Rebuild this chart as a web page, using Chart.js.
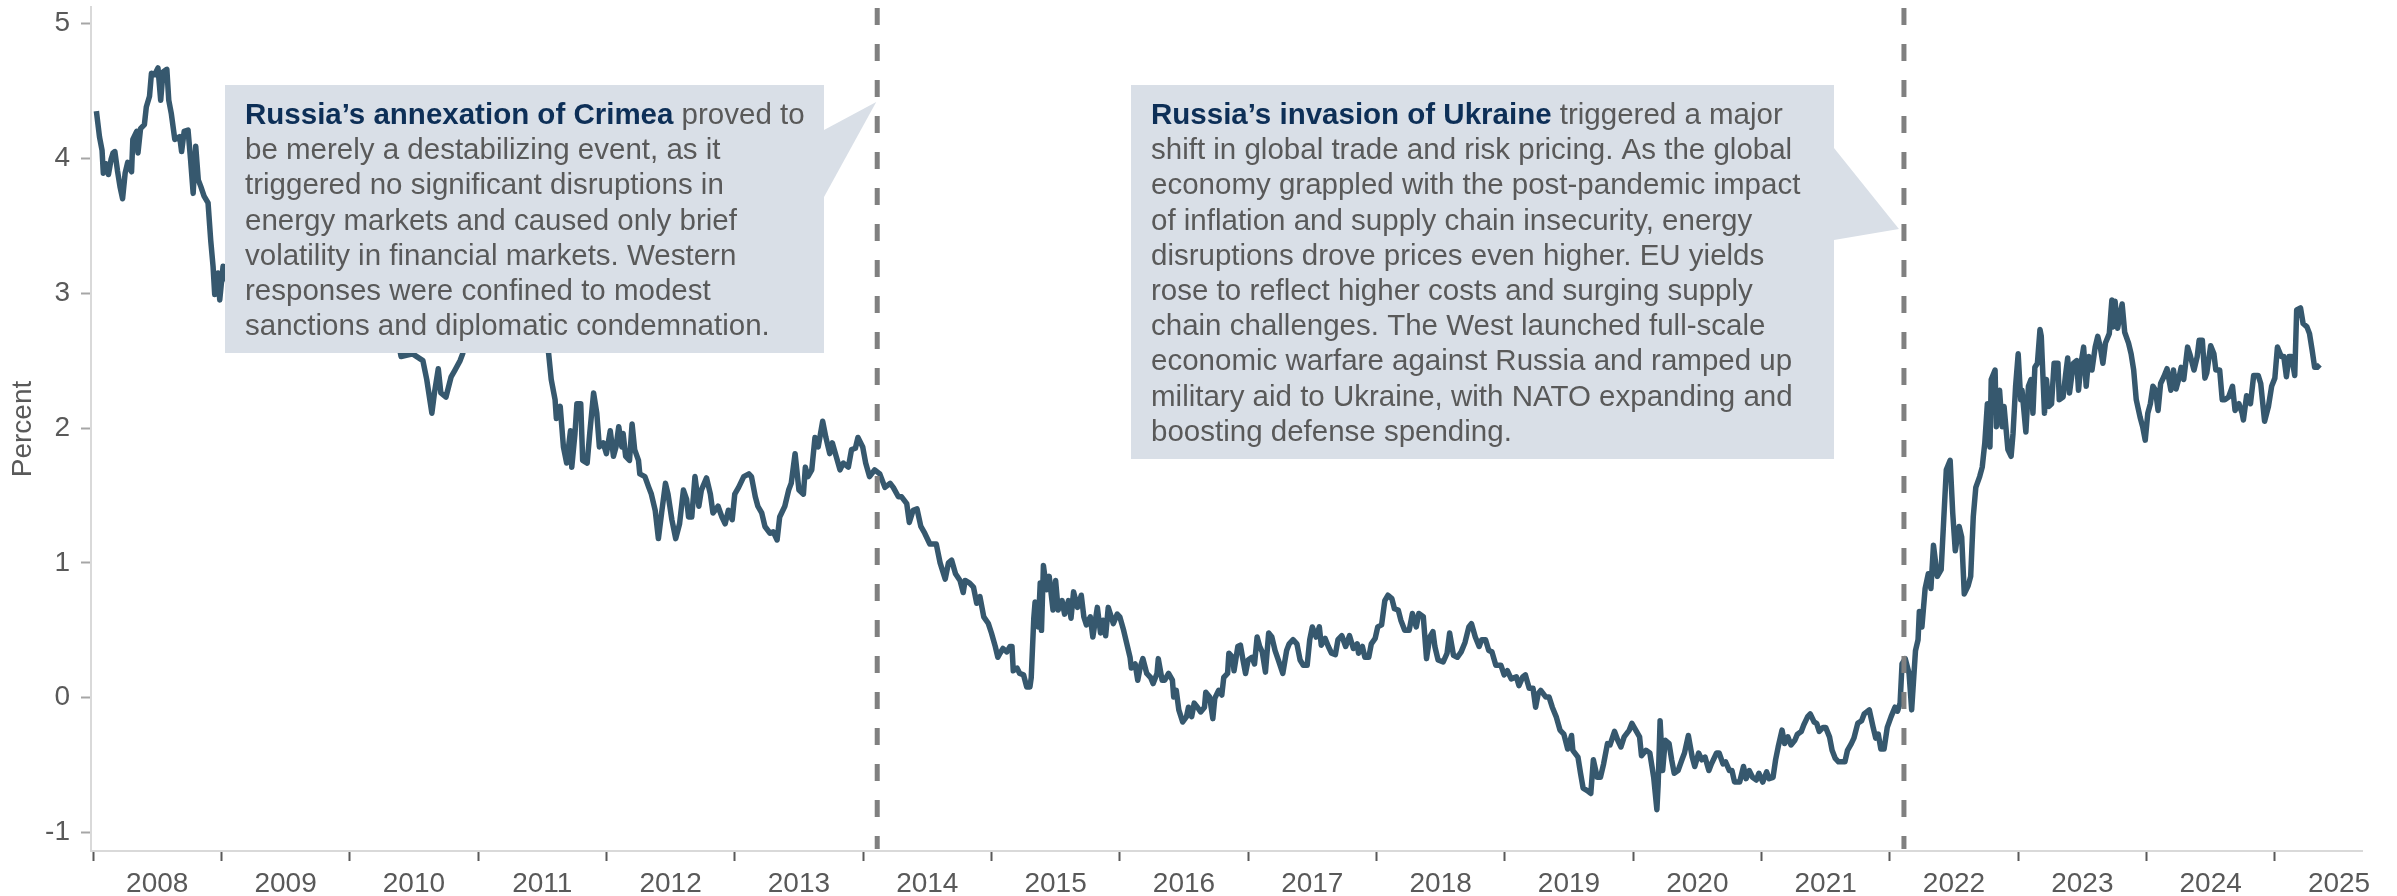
<!DOCTYPE html>
<html>
<head>
<meta charset="utf-8">
<title>Yields and the two Russia shocks</title>
<script src="https://cdn.jsdelivr.net/npm/chart.js@4.4.1/dist/chart.umd.min.js"></script>
<style>
  html, body { margin: 0; padding: 0; background: #fff; }
  canvas { display: block; }
</style>
</head>
<body>
<canvas id="mycanvas" width="2397" height="896"></canvas>
<script>
// dates are decimal years, yields in percent (~2 per month)
const dates = [
  2008.026, 2008.05, 2008.07, 2008.08, 2008.10, 2008.12, 2008.14, 2008.156, 2008.17, 2008.19,
  2008.21, 2008.23, 2008.25, 2008.27, 2008.30, 2008.31, 2008.34, 2008.35, 2008.37, 2008.40,
  2008.415, 2008.44, 2008.455, 2008.48, 2008.506, 2008.527, 2008.545, 2008.575, 2008.59, 2008.61,
  2008.637, 2008.675, 2008.69, 2008.71, 2008.74, 2008.76, 2008.78, 2008.80, 2008.82, 2008.84,
  2008.865, 2008.896, 2008.917, 2008.935, 2008.948, 2008.974, 2008.987, 2009.013, 2009.026, 2009.06,
  2009.10, 2009.15, 2009.20, 2009.25, 2009.30, 2009.35, 2009.42, 2009.47, 2009.52, 2009.58,
  2009.65, 2009.72, 2009.78, 2009.85, 2009.92, 2009.98, 2010.05, 2010.12, 2010.20, 2010.27,
  2010.33, 2010.37, 2010.40, 2010.49, 2010.57, 2010.60, 2010.64, 2010.66, 2010.69, 2010.71,
  2010.75, 2010.79, 2010.82, 2010.86, 2010.88, 2010.92, 2010.96, 2011.00, 2011.05, 2011.10,
  2011.15, 2011.20, 2011.27, 2011.31, 2011.35, 2011.40, 2011.45, 2011.50, 2011.55, 2011.57,
  2011.60, 2011.61, 2011.64, 2011.665, 2011.69, 2011.72, 2011.73, 2011.755, 2011.77, 2011.80,
  2011.815, 2011.85, 2011.87, 2011.90, 2011.925, 2011.945, 2011.975, 2012.00, 2012.03, 2012.055,
  2012.075, 2012.096, 2012.12, 2012.13, 2012.15, 2012.18, 2012.20, 2012.22, 2012.25, 2012.26,
  2012.30, 2012.33, 2012.35, 2012.38, 2012.405, 2012.43, 2012.46, 2012.48, 2012.51, 2012.54,
  2012.57, 2012.60, 2012.625, 2012.64, 2012.665, 2012.69, 2012.72, 2012.74, 2012.78, 2012.81,
  2012.83, 2012.87, 2012.90, 2012.925, 2012.95, 2012.98, 2013.00, 2013.03, 2013.07, 2013.11,
  2013.13, 2013.16, 2013.18, 2013.21, 2013.235, 2013.275, 2013.30, 2013.33, 2013.35, 2013.39,
  2013.42, 2013.44, 2013.47, 2013.50, 2013.535, 2013.55, 2013.57, 2013.60, 2013.625, 2013.65,
  2013.685, 2013.71, 2013.74, 2013.76, 2013.79, 2013.82, 2013.846, 2013.885, 2013.91, 2013.94,
  2013.96, 2013.997, 2014.02, 2014.05, 2014.09, 2014.13, 2014.17, 2014.21, 2014.235, 2014.275,
  2014.30, 2014.34, 2014.36, 2014.39, 2014.42, 2014.45, 2014.48, 2014.52, 2014.57, 2014.60,
  2014.64, 2014.665, 2014.69, 2014.72, 2014.755, 2014.78, 2014.795, 2014.83, 2014.86, 2014.885,
  2014.91, 2014.94, 2014.976, 2015.00, 2015.03, 2015.05, 2015.067, 2015.09, 2015.12, 2015.145,
  2015.16, 2015.17, 2015.20, 2015.22, 2015.25, 2015.275, 2015.30, 2015.31, 2015.33, 2015.34,
  2015.35, 2015.365, 2015.38, 2015.39, 2015.405, 2015.43, 2015.45, 2015.48, 2015.50, 2015.52,
  2015.55, 2015.57, 2015.60, 2015.62, 2015.64, 2015.67, 2015.70, 2015.72, 2015.74, 2015.77,
  2015.79, 2015.825, 2015.85, 2015.87, 2015.89, 2015.91, 2015.95, 2015.98, 2016.00, 2016.03,
  2016.055, 2016.08, 2016.09, 2016.12, 2016.14, 2016.16, 2016.18, 2016.21, 2016.24, 2016.26,
  2016.29, 2016.30, 2016.33, 2016.35, 2016.38, 2016.41, 2016.42, 2016.44, 2016.46, 2016.49,
  2016.52, 2016.535, 2016.56, 2016.58, 2016.605, 2016.63, 2016.66, 2016.67, 2016.70, 2016.725,
  2016.74, 2016.77, 2016.795, 2016.81, 2016.84, 2016.85, 2016.88, 2016.89, 2016.92, 2016.94,
  2016.96, 2016.98, 2017.00, 2017.03, 2017.05, 2017.07, 2017.09, 2017.11, 2017.135, 2017.16,
  2017.185, 2017.21, 2017.235, 2017.27, 2017.30, 2017.32, 2017.35, 2017.38, 2017.405, 2017.43,
  2017.46, 2017.48, 2017.50, 2017.53, 2017.555, 2017.57, 2017.60, 2017.625, 2017.65, 2017.68,
  2017.70, 2017.73, 2017.76, 2017.79, 2017.82, 2017.85, 2017.86, 2017.89, 2017.91, 2017.94,
  2017.96, 2017.99, 2018.01, 2018.04, 2018.065, 2018.09, 2018.12, 2018.14, 2018.17, 2018.19,
  2018.22, 2018.255, 2018.28, 2018.31, 2018.33, 2018.365, 2018.39, 2018.415, 2018.44, 2018.455,
  2018.48, 2018.52, 2018.55, 2018.57, 2018.60, 2018.63, 2018.66, 2018.69, 2018.72, 2018.74,
  2018.77, 2018.80, 2018.82, 2018.85, 2018.875, 2018.90, 2018.93, 2018.97, 2018.995, 2019.02,
  2019.05, 2019.09, 2019.11, 2019.14, 2019.16, 2019.19, 2019.22, 2019.24, 2019.26, 2019.28,
  2019.32, 2019.345, 2019.37, 2019.40, 2019.43, 2019.46, 2019.49, 2019.52, 2019.53, 2019.57,
  2019.59, 2019.61, 2019.645, 2019.67, 2019.69, 2019.72, 2019.745, 2019.77, 2019.80, 2019.82,
  2019.855, 2019.88, 2019.905, 2019.93, 2019.97, 2019.99, 2020.02, 2020.05, 2020.065, 2020.10,
  2020.13, 2020.16, 2020.185, 2020.195, 2020.21, 2020.23, 2020.25, 2020.28, 2020.30, 2020.32,
  2020.35, 2020.38, 2020.40, 2020.43, 2020.46, 2020.48, 2020.51, 2020.535, 2020.56, 2020.59,
  2020.61, 2020.65, 2020.67, 2020.70, 2020.72, 2020.75, 2020.77, 2020.79, 2020.83, 2020.86,
  2020.88, 2020.905, 2020.93, 2020.96, 2020.98, 2021.01, 2021.04, 2021.06, 2021.09, 2021.11,
  2021.13, 2021.16, 2021.18, 2021.205, 2021.23, 2021.26, 2021.28, 2021.31, 2021.33, 2021.36,
  2021.38, 2021.41, 2021.43, 2021.45, 2021.48, 2021.50, 2021.53, 2021.55, 2021.575, 2021.60,
  2021.63, 2021.65, 2021.67, 2021.70, 2021.72, 2021.75, 2021.78, 2021.80, 2021.84, 2021.87,
  2021.89, 2021.91, 2021.93, 2021.955, 2021.98, 2022.01, 2022.04, 2022.06, 2022.08, 2022.095,
  2022.12, 2022.15, 2022.17, 2022.20, 2022.22, 2022.23, 2022.25, 2022.275, 2022.30, 2022.32,
  2022.34, 2022.37, 2022.40, 2022.42, 2022.44, 2022.47, 2022.49, 2022.51, 2022.54, 2022.56,
  2022.58, 2022.61, 2022.63, 2022.65, 2022.67, 2022.70, 2022.72, 2022.74, 2022.76, 2022.78,
  2022.79, 2022.82, 2022.83, 2022.855, 2022.875, 2022.89, 2022.92, 2022.945, 2022.96, 2022.98,
  2023.00, 2023.02, 2023.03, 2023.06, 2023.08, 2023.10, 2023.115, 2023.13, 2023.15, 2023.17,
  2023.18, 2023.205, 2023.22, 2023.24, 2023.26, 2023.28, 2023.31, 2023.32, 2023.35, 2023.37,
  2023.386, 2023.40, 2023.43, 2023.456, 2023.47, 2023.49, 2023.51, 2023.53, 2023.55, 2023.575,
  2023.60, 2023.62, 2023.64, 2023.66, 2023.68, 2023.71, 2023.73, 2023.74, 2023.755, 2023.775,
  2023.81, 2023.83, 2023.86, 2023.88, 2023.90, 2023.92, 2023.95, 2023.97, 2023.99, 2024.01,
  2024.03, 2024.05, 2024.07, 2024.09, 2024.11, 2024.135, 2024.16, 2024.19, 2024.21, 2024.23,
  2024.25, 2024.27, 2024.29, 2024.32, 2024.34, 2024.37, 2024.395, 2024.41, 2024.435, 2024.455,
  2024.47, 2024.50, 2024.525, 2024.54, 2024.57, 2024.59, 2024.61, 2024.64, 2024.67, 2024.69,
  2024.72, 2024.745, 2024.755, 2024.78, 2024.81, 2024.835, 2024.87, 2024.89, 2024.92, 2024.95,
  2024.975, 2025.00, 2025.02, 2025.05, 2025.07, 2025.09, 2025.11, 2025.13, 2025.155, 2025.17,
  2025.20, 2025.22, 2025.25, 2025.27, 2025.29, 2025.31, 2025.33, 2025.35
];
const yields = [
  4.35, 4.16, 4.06, 3.89, 3.96, 3.88, 3.99, 4.04, 4.05, 3.91,
  3.79, 3.70, 3.89, 3.97, 3.90, 4.14, 4.20, 4.04, 4.22, 4.25,
  4.38, 4.46, 4.63, 4.62, 4.67, 4.43, 4.64, 4.66, 4.43, 4.33,
  4.14, 4.16, 4.05, 4.20, 4.21, 3.99, 3.74, 4.09, 3.84, 3.79,
  3.72, 3.67, 3.39, 3.20, 2.99, 3.15, 2.95, 3.20, 3.15, 3.05,
  3.25, 3.05, 2.98, 3.12, 3.22, 3.40, 3.58, 3.42, 3.36, 3.30,
  3.32, 3.22, 3.26, 3.20, 3.30, 3.38, 3.30, 3.15, 3.10, 3.08,
  2.92, 2.68, 2.53, 2.55, 2.50, 2.36, 2.11, 2.26, 2.44, 2.26,
  2.23, 2.38, 2.43, 2.50, 2.55, 2.75, 2.95, 2.92, 3.10, 3.22,
  3.26, 3.20, 3.38, 3.45, 3.22, 3.05, 3.00, 2.80, 2.55, 2.36,
  2.21, 2.07, 2.16, 1.86, 1.74, 1.98, 1.71, 1.96, 2.18, 2.18,
  1.76, 1.74, 1.96, 2.26, 2.11, 1.86, 1.89, 1.81, 1.98, 1.79,
  1.86, 2.01, 1.86, 1.96, 1.79, 1.76, 2.03, 1.84, 1.76, 1.66,
  1.64, 1.56, 1.51, 1.39, 1.18, 1.37, 1.59, 1.51, 1.32, 1.18,
  1.29, 1.54, 1.47, 1.34, 1.34, 1.64, 1.42, 1.54, 1.63, 1.51,
  1.37, 1.42, 1.34, 1.29, 1.39, 1.32, 1.51, 1.56, 1.64, 1.66,
  1.64, 1.49, 1.42, 1.37, 1.27, 1.22, 1.23, 1.17, 1.34, 1.42,
  1.54, 1.59, 1.81, 1.54, 1.51, 1.71, 1.64, 1.69, 1.93, 1.86,
  2.05, 1.93, 1.81, 1.89, 1.79, 1.69, 1.74, 1.71, 1.84, 1.85,
  1.93, 1.86, 1.74, 1.64, 1.69, 1.66, 1.56, 1.59, 1.56, 1.49,
  1.49, 1.44, 1.30, 1.39, 1.40, 1.27, 1.22, 1.14, 1.14, 1.00,
  0.88, 1.00, 1.02, 0.92, 0.87, 0.78, 0.87, 0.85, 0.82, 0.70,
  0.75, 0.60, 0.55, 0.48, 0.38, 0.30, 0.33, 0.365, 0.34, 0.38,
  0.38, 0.20, 0.22, 0.18, 0.17, 0.08, 0.08, 0.15, 0.59, 0.71,
  0.575, 0.525, 0.85, 0.50, 0.98, 0.80, 0.90, 0.65, 0.87, 0.65,
  0.72, 0.62, 0.72, 0.59, 0.785, 0.67, 0.76, 0.60, 0.54, 0.60,
  0.45, 0.67, 0.48, 0.575, 0.46, 0.67, 0.55, 0.62, 0.60, 0.50,
  0.40, 0.30, 0.22, 0.25, 0.13, 0.23, 0.29, 0.18, 0.15, 0.105,
  0.18, 0.29, 0.13, 0.13, 0.18, 0.13, 0.005, 0.055, -0.09, -0.18,
  -0.14, -0.07, -0.14, -0.04, -0.07, -0.105, -0.07, 0.04, 0.005, -0.155,
  -0.005, 0.055, 0.02, 0.15, 0.18, 0.33, 0.30, 0.20, 0.38, 0.39,
  0.28, 0.18, 0.28, 0.30, 0.25, 0.45, 0.38, 0.34, 0.19, 0.48,
  0.45, 0.35, 0.28, 0.18, 0.35, 0.40, 0.43, 0.40, 0.28, 0.24,
  0.24, 0.43, 0.525, 0.45, 0.525, 0.39, 0.44, 0.38, 0.33, 0.32,
  0.43, 0.46, 0.38, 0.46, 0.365, 0.40, 0.33, 0.38, 0.30, 0.30,
  0.40, 0.44, 0.525, 0.54, 0.72, 0.76, 0.735, 0.66, 0.65, 0.575,
  0.50, 0.50, 0.625, 0.525, 0.625, 0.60, 0.29, 0.45, 0.49, 0.38,
  0.28, 0.265, 0.33, 0.48, 0.315, 0.30, 0.34, 0.41, 0.525, 0.55,
  0.45, 0.38, 0.43, 0.43, 0.35, 0.34, 0.24, 0.24, 0.17, 0.20,
  0.14, 0.155, 0.09, 0.155, 0.17, 0.07, 0.07, -0.07, 0.03, 0.055,
  0.005, 0.005, -0.07, -0.14, -0.24, -0.27, -0.38, -0.28, -0.39, -0.44,
  -0.56, -0.67, -0.69, -0.71, -0.46, -0.59, -0.59, -0.49, -0.34, -0.35,
  -0.25, -0.315, -0.365, -0.29, -0.24, -0.19, -0.24, -0.29, -0.43, -0.39,
  -0.41, -0.59, -0.83, -0.64, -0.17, -0.54, -0.315, -0.34, -0.46, -0.56,
  -0.54, -0.46, -0.41, -0.28, -0.44, -0.51, -0.41, -0.46, -0.44, -0.54,
  -0.49, -0.41, -0.41, -0.49, -0.475, -0.54, -0.54, -0.625, -0.625, -0.51,
  -0.60, -0.54, -0.59, -0.61, -0.56, -0.625, -0.55, -0.60, -0.59, -0.46,
  -0.365, -0.24, -0.34, -0.29, -0.35, -0.315, -0.27, -0.25, -0.20, -0.14,
  -0.12, -0.18, -0.19, -0.25, -0.22, -0.22, -0.29, -0.39, -0.45, -0.475,
  -0.475, -0.475, -0.39, -0.34, -0.30, -0.19, -0.17, -0.12, -0.09, -0.22,
  -0.30, -0.27, -0.38, -0.38, -0.22, -0.14, -0.07, -0.10, -0.04, 0.25,
  0.29, 0.18, -0.09, 0.35, 0.43, 0.64, 0.525, 0.81, 0.92, 0.81,
  1.13, 0.90, 0.95, 1.32, 1.69, 1.76, 1.37, 1.09, 1.27, 1.19,
  0.77, 0.83, 0.90, 1.34, 1.56, 1.64, 1.71, 1.89, 2.18, 1.86,
  2.36, 2.43, 2.01, 2.28, 2.01, 2.16, 1.84, 1.79, 1.96, 2.31,
  2.55, 2.21, 2.28, 1.97, 2.31, 2.36, 2.11, 2.45, 2.48, 2.73,
  2.68, 2.11, 2.36, 2.16, 2.18, 2.48, 2.48, 2.21, 2.23, 2.40,
  2.52, 2.26, 2.48, 2.50, 2.28, 2.48, 2.60, 2.31, 2.53, 2.43,
  2.60, 2.68, 2.60, 2.48, 2.63, 2.70, 2.95, 2.75, 2.94, 2.74,
  2.92, 2.71, 2.63, 2.55, 2.43, 2.21, 2.08, 2.01, 1.91, 2.11,
  2.18, 2.31, 2.28, 2.13, 2.33, 2.38, 2.44, 2.28, 2.43, 2.29,
  2.36, 2.45, 2.36, 2.60, 2.54, 2.43, 2.53, 2.65, 2.65, 2.37,
  2.41, 2.61, 2.55, 2.43, 2.43, 2.21, 2.21, 2.23, 2.31, 2.13,
  2.18, 2.11, 2.06, 2.24, 2.18, 2.39, 2.39, 2.33, 2.05, 2.16,
  2.31, 2.37, 2.60, 2.53, 2.53, 2.38, 2.53, 2.53, 2.39, 2.875,
  2.89, 2.775, 2.75, 2.70, 2.58, 2.45, 2.45, 2.47
];
if (dates.length !== yields.length) console.error('dates/yields length mismatch', dates.length, yields.length);

const yearTicks = [2008, 2009, 2010, 2011, 2012, 2013, 2014, 2015, 2016, 2017, 2018, 2019, 2020, 2021, 2022, 2023, 2024, 2025];
const percentTicks = [-1, 0, 1, 2, 3, 4, 5];
const eventDates = [2014.11, 2022.11];   // crimea, ukraine

// callout texts
const crimeaBold = 'Russia\u2019s annexation of Crimea';
const crimeaLines = [
  ' proved to',
  'be merely a destabilizing event, as it',
  'triggered no significant disruptions in',
  'energy markets and caused only brief',
  'volatility in financial markets. Western',
  'responses were confined to modest',
  'sanctions and diplomatic condemnation.'
];
const ukraineBold = 'Russia\u2019s invasion of Ukraine';
const ukraineLines = [
  ' triggered a major',
  'shift in global trade and risk pricing. As the global',
  'economy grappled with the post-pandemic impact',
  'of inflation and supply chain insecurity, energy',
  'disruptions drove prices even higher. EU yields',
  'rose to reflect higher costs and surging supply',
  'chain challenges. The West launched full-scale',
  'economic warfare against Russia and ramped up',
  'military aid to Ukraine, with NATO expanding and',
  'boosting defense spending.'
];

const FONT = "'Liberation Sans', Arial, Helvetica, sans-serif";
const GREY = '#595959';
const LINE_BLUE = '#36586e';
const BOX_FILL = '#d9dfe7';
const NAVY = '#0d2f57';

Chart.defaults.font.family = FONT;
Chart.defaults.color = GREY;

// dashed event lines, drawn over the series
const eventLines = {
  id: 'eventLines',
  afterDatasetsDraw(chart) {
    const ctx = chart.ctx;
    const area = chart.chartArea;
    ctx.save();
    ctx.strokeStyle = '#808080';
    ctx.lineWidth = 5;
    ctx.setLineDash([17, 19]);
    eventDates.forEach(d => {
      const x = chart.scales.x.getPixelForValue(d);
      ctx.beginPath();
      ctx.moveTo(x, area.top + 1);
      ctx.lineTo(x, area.bottom - 2);
      ctx.stroke();
    });
    ctx.restore();
  }
};

function drawCallout(ctx, box, tail, bold, lines) {
  ctx.save();
  ctx.fillStyle = BOX_FILL;
  ctx.fillRect(box.left, box.top, box.right - box.left, box.bottom - box.top);
  ctx.beginPath();
  ctx.moveTo(tail[0][0], tail[0][1]);
  ctx.lineTo(tail[1][0], tail[1][1]);
  ctx.lineTo(tail[2][0], tail[2][1]);
  ctx.closePath();
  ctx.fill();

  const x = box.left + 20;
  let y = box.top + 39;
  ctx.textBaseline = 'alphabetic';
  ctx.textAlign = 'left';
  ctx.font = 'bold 29.5px ' + FONT;
  ctx.fillStyle = NAVY;
  ctx.fillText(bold, x, y);
  const w = ctx.measureText(bold).width;
  ctx.font = '29.5px ' + FONT;
  ctx.fillStyle = GREY;
  ctx.fillText(lines[0], x + w, y);
  for (let i = 1; i < lines.length; i++) {
    y += 35.2;
    ctx.fillText(lines[i], x, y);
  }
  ctx.restore();
}

const callouts = {
  id: 'callouts',
  afterDraw(chart) {
    const ctx = chart.ctx;
    const x1 = chart.scales.x.getPixelForValue(eventDates[0]);
    const x2 = chart.scales.x.getPixelForValue(eventDates[1]);
    drawCallout(ctx, {left: 225, top: 85, right: 824, bottom: 353},
      [[824, 130], [x1 - 1, 102], [824, 197]], crimeaBold, crimeaLines);
    drawCallout(ctx, {left: 1131, top: 85, right: 1834, bottom: 459},
      [[1834, 148], [x2 - 5, 229], [1834, 240]], ukraineBold, ukraineLines);
  }
};

let points = dates.map((d, i) => ({x: d, y: yields[i]}));

new Chart(document.getElementById('mycanvas'), {
  type: 'line',
  data: {
    datasets: [{
      data: points,
      borderColor: LINE_BLUE,
      borderWidth: 5.5,
      pointRadius: 0,
      tension: 0,
      borderJoinStyle: 'round',
      fill: false
    }]
  },
  options: {
    responsive: false,
    animation: false,
    devicePixelRatio: 1,
    layout: { padding: { top: 7, right: 35, left: 0, bottom: 0 } },
    plugins: { legend: { display: false }, tooltip: { enabled: false } },
    scales: {
      x: {
        type: 'linear',
        min: 2007.984,
        max: 2025.679,
        afterBuildTicks: (scale) => {
          let t = [];
          yearTicks.forEach(y => { t.push({value: y}); t.push({value: y + 0.5}); });
          scale.ticks = t;
        },
        afterFit: (scale) => {
          scale.height = 45;
          scale.paddingLeft = 0;
          scale.paddingRight = 0;
        },
        ticks: {
          autoSkip: false,
          maxRotation: 0,
          minRotation: 0,
          padding: 6,
          color: GREY,
          font: { size: 28 },
          callback: (v) => (v % 1 !== 0 ? String(Math.floor(v)) : '')
        },
        grid: {
          drawOnChartArea: false,
          drawTicks: true,
          tickLength: 10,
          tickWidth: 2,
          tickColor: (c) => (c.tick && c.tick.value % 1 === 0) ? GREY : 'rgba(0,0,0,0)'
        },
        border: { display: true, color: '#d9d9d9', width: 2 }
      },
      y: {
        type: 'linear',
        min: -1.1365,
        max: 5.122,
        afterBuildTicks: (scale) => { scale.ticks = percentTicks.map(v => ({value: v})); },
        afterFit: (scale) => {
          scale.width = 91;
          scale.paddingTop = 0;
          scale.paddingBottom = 0;
        },
        ticks: {
          padding: 11,
          color: GREY,
          font: { size: 28 }
        },
        grid: {
          drawOnChartArea: false,
          drawTicks: true,
          tickLength: 10,
          tickWidth: 2,
          tickColor: '#a6a6a6'
        },
        border: { display: true, color: '#d9d9d9', width: 2 },
        title: {
          display: true,
          text: 'Percent',
          color: GREY,
          font: { size: 28 },
          padding: { top: 6, bottom: 0 }
        }
      }
    }
  },
  plugins: [eventLines, callouts]
});
</script>
</body>
</html>
